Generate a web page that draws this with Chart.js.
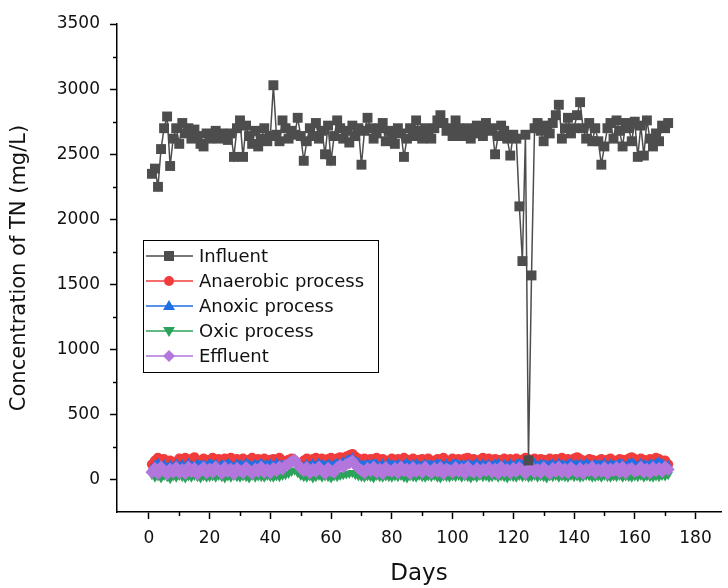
<!DOCTYPE html>
<html>
<head>
<meta charset="utf-8">
<script src="https://cdn.jsdelivr.net/npm/chart.js@4.4.1/dist/chart.umd.min.js"></script>
<style>
  html, body { margin: 0; padding: 0; background: #fff; }
  #wrap { width: 728px; height: 588px; }
</style>
</head>
<body>
<div id="wrap"><canvas id="c" width="728" height="588"></canvas></div>
<script>
// ---- Data ----
const days = [
  1,2,3,4,5,6,7,8,9,10, 11,12,13,14,15,16,17,18,19,20,
  21,22,23,24,25,26,27,28,29,30, 31,32,33,34,35,36,37,38,39,40,
  41,42,43,44,45,46,47,48,49,50, 51,52,53,54,55,56,57,58,59,60,
  61,62,63,64,65,66,67,68,69,70, 71,72,73,74,75,76,77,78,79,80,
  81,82,83,84,85,86,87,88,89,90, 91,92,93,94,95,96,97,98,99,100,
  101,102,103,104,105,106,107,108,109,110, 111,112,113,114,115,116,117,118,119,120,
  121,122,123,124,125,126,127,128,129,130, 131,132,133,134,135,136,137,138,139,140,
  141,142,143,144,145,146,147,148,149,150, 151,152,153,154,155,156,157,158,159,160,
  161,162,163,164,165,166,167,168,169,170,171
];

const influent = [
  2350,2390,2250,2540,2700,2790,2410,2620,2700,2580,
  2740,2660,2700,2620,2690,2640,2580,2560,2660,2620,
  2650,2680,2620,2660,2640,2610,2660,2480,2700,2760,
  2480,2720,2640,2580,2680,2560,2620,2700,2600,2640,
  3030,2650,2600,2760,2700,2620,2680,2650,2780,2640,
  2450,2600,2700,2640,2740,2620,2680,2500,2720,2450,
  2640,2760,2700,2620,2680,2590,2720,2640,2700,2420,
  2680,2780,2700,2620,2660,2700,2740,2600,2680,2640,
  2580,2700,2660,2480,2620,2700,2640,2760,2680,2620,
  2700,2640,2620,2700,2760,2800,2740,2680,2700,2640,
  2760,2700,2640,2680,2700,2620,2660,2720,2700,2640,
  2740,2680,2700,2500,2640,2720,2680,2620,2490,2650,
  2620,2100,1680,2650,150,1570,2700,2740,2680,2600,
  2720,2660,2740,2800,2880,2620,2700,2780,2660,2700,
  2800,2900,2700,2620,2740,2600,2700,2600,2420,2560,
  2700,2740,2620,2760,2680,2560,2740,2700,2600,2750,
  2480,2720,2490,2760,2620,2560,2660,2600,2720,2700,2740
];

const anaerobic = [
  120,150,170,140,160,130,150,120,140,165,
  150,170,140,160,175,150,130,165,155,140,
  170,150,160,135,165,150,170,140,160,150,
  165,140,155,170,145,160,150,165,135,155,
  160,145,170,150,140,155,165,150,130,120,
  150,165,140,160,170,150,165,145,160,170,
  155,165,175,160,180,190,200,180,165,150,
  165,140,160,155,170,145,160,150,135,165,
  150,160,140,170,155,150,165,140,155,160,
  145,165,150,140,160,155,170,145,150,165,
  150,160,140,165,170,150,160,145,155,170,
  150,165,140,160,155,150,165,145,160,150,
  165,150,155,170,160,150,165,140,160,155,
  150,165,145,160,150,170,155,160,145,165,
  175,160,150,145,160,155,140,150,160,145,
  155,165,150,140,160,155,150,165,175,160,
  150,165,155,145,160,150,170,160,145,150,120
];

const anoxic = [
  90,110,130,100,120,95,115,100,125,110,
  120,105,130,115,100,125,110,120,105,130,
  115,125,100,120,110,130,115,105,125,120,
  110,130,120,105,125,115,130,110,120,125,
  115,130,120,110,125,135,140,150,130,115,
  105,120,110,125,115,130,120,110,125,115,
  120,130,125,140,150,160,170,150,130,120,
  110,125,115,130,120,110,125,115,130,120,
  110,125,115,120,130,110,120,125,115,110,
  125,115,120,110,130,120,115,125,110,120,
  130,115,120,110,125,115,120,130,110,125,
  115,120,110,125,130,115,120,110,125,115,
  120,130,115,125,110,120,130,115,120,125,
  110,120,125,115,130,120,110,125,130,115,
  120,125,115,130,120,110,125,115,120,130,
  115,125,120,110,130,120,115,125,135,120,
  115,130,120,110,125,120,130,140,125,115,110
];

const oxic = [
  40,20,30,15,35,25,10,30,20,35,
  25,15,30,20,35,25,15,30,20,25,
  30,20,35,25,15,30,20,35,25,20,
  30,25,15,35,20,30,25,20,35,25,
  20,30,25,35,40,50,65,75,55,35,
  25,20,30,15,25,35,20,30,25,15,
  30,25,35,40,45,50,55,40,30,25,
  20,30,25,15,35,25,20,30,25,20,
  30,25,35,20,15,30,25,20,35,25,
  20,30,25,35,20,15,30,25,20,30,
  25,35,20,30,25,15,30,20,35,25,
  30,20,25,35,20,30,25,15,30,25,
  20,35,25,30,20,25,35,20,30,25,
  15,30,25,35,20,30,25,20,35,25,
  30,20,25,35,30,20,25,30,20,35,
  25,20,30,25,35,20,30,25,20,30,
  25,35,20,30,25,20,30,25,35,30,40
];

const effluent = [
  60,90,50,100,70,45,85,60,95,55,
  80,50,100,65,90,45,75,95,55,85,
  60,100,70,50,95,65,85,45,90,70,
  55,95,75,50,85,65,100,60,80,55,
  90,70,100,85,110,125,140,155,120,90,
  70,95,55,85,65,100,75,50,90,70,
  60,95,110,100,120,130,145,115,90,75,
  55,90,70,100,60,85,50,95,75,65,
  90,55,100,70,85,50,95,65,80,60,
  100,70,55,90,65,95,50,85,75,60,
  95,65,85,50,100,70,60,90,55,85,
  70,95,60,85,50,100,65,80,55,90,
  65,95,75,50,85,100,60,80,55,95,
  70,50,90,65,100,60,85,55,95,75,
  60,90,50,85,70,100,55,80,65,95,
  50,85,70,95,60,100,55,80,90,65,
  75,100,60,85,55,95,70,90,65,100,80
];

const seriesNames = ['Influent', 'Anaerobic process', 'Anoxic process', 'Oxic process', 'Effluent'];
const xTickValues = [0, 20, 40, 60, 80, 100, 120, 140, 160, 180];
const yTickValues = [0, 500, 1000, 1500, 2000, 2500, 3000, 3500];
const xMinorTicks = [10, 30, 50, 70, 90, 110, 130, 150, 170];
const yMinorTicks = [250, 750, 1250, 1750, 2250, 2750, 3250];

// ---- Styles ----
const colors = ['#4d4d4d', '#f23c3c', '#1f6fe5', '#2ca35a', '#b276dc'];
const pointStyles = ['rect', 'circle', 'triangle', 'triangle', 'rectRot'];
const rotations = [0, 0, 0, 180, 0];
const radii = [7, 5, 5.5, 5.5, 6.5];
const orders = [0, 4, 3, 2, 1];
const allValues = [influent, anaerobic, anoxic, oxic, effluent];

const datasets = allValues.map((vals, i) => ({
  label: seriesNames[i],
  data: days.map((d, k) => ({ x: d, y: vals[k] })),
  borderColor: colors[i],
  backgroundColor: colors[i],
  borderWidth: 1.5,
  pointStyle: pointStyles[i],
  pointRotation: rotations[i],
  pointRadius: radii[i],
  pointBorderWidth: 0,
  pointBackgroundColor: colors[i],
  order: orders[i],
  tension: 0
}));

const FONT = '"DejaVu Sans", "Liberation Sans", Arial, sans-serif';

const extras = {
  id: 'extras',
  afterDraw(chart) {
    const ctx = chart.ctx;
    const xs = chart.scales.x, ys = chart.scales.y;
    const ca = chart.chartArea;
    ctx.save();
    ctx.strokeStyle = '#000';
    ctx.lineWidth = 1.5;
    // minor ticks
    xMinorTicks.forEach(v => {
      const px = Math.round(xs.getPixelForValue(v)) + 0.5;
      ctx.beginPath(); ctx.moveTo(px, ca.bottom); ctx.lineTo(px, ca.bottom + 4); ctx.stroke();
    });
    yMinorTicks.forEach(v => {
      const py = Math.round(ys.getPixelForValue(v)) + 0.5;
      ctx.beginPath(); ctx.moveTo(ca.left, py); ctx.lineTo(ca.left - 4, py); ctx.stroke();
    });
    // legend
    const bx = 143.5, by = 240.5, bw = 235, bh = 132;
    ctx.fillStyle = '#fff';
    ctx.fillRect(bx, by, bw, bh);
    ctx.lineWidth = 1;
    ctx.strokeStyle = '#000';
    ctx.strokeRect(bx, by, bw, bh);
    const rowY = [256, 281, 306, 331, 356];
    ctx.font = '18px ' + FONT;
    ctx.textBaseline = 'middle';
    ctx.textAlign = 'left';
    seriesNames.forEach((name, i) => {
      const y = rowY[i];
      ctx.strokeStyle = colors[i];
      ctx.lineWidth = 1.5;
      ctx.beginPath(); ctx.moveTo(146, y); ctx.lineTo(193, y); ctx.stroke();
      ctx.fillStyle = colors[i];
      const cx = 169;
      ctx.beginPath();
      if (i === 0) {
        ctx.rect(cx - 5, y - 5, 10, 10);
      } else if (i === 1) {
        ctx.arc(cx, y, 5, 0, Math.PI * 2);
      } else if (i === 2) {
        ctx.moveTo(cx, y - 6); ctx.lineTo(cx + 6, y + 4); ctx.lineTo(cx - 6, y + 4); ctx.closePath();
      } else if (i === 3) {
        ctx.moveTo(cx, y + 6); ctx.lineTo(cx + 6, y - 4); ctx.lineTo(cx - 6, y - 4); ctx.closePath();
      } else {
        ctx.moveTo(cx, y - 6); ctx.lineTo(cx + 6, y); ctx.lineTo(cx, y + 6); ctx.lineTo(cx - 6, y); ctx.closePath();
      }
      ctx.fill();
      ctx.fillStyle = '#111';
      ctx.fillText(name, 199, y + 1);
    });
    ctx.restore();
  }
};

new Chart(document.getElementById('c'), {
  type: 'line',
  data: { datasets },
  options: {
    responsive: false,
    animation: false,
    layout: { padding: { top: 24, right: 0, left: 0, bottom: 0 } },
    plugins: { legend: { display: false }, tooltip: { enabled: false } },
    scales: {
      x: {
        type: 'linear',
        min: -10.5,
        max: 188.4,
        afterBuildTicks: (s) => { s.ticks = xTickValues.map(v => ({ value: v })); },
        afterFit: (s) => { s.height = 76; },
        grid: { drawOnChartArea: false, drawTicks: true, tickLength: 7, tickColor: '#000', tickWidth: 1.5 },
        border: { display: true, color: '#000', width: 1.5 },
        ticks: { color: '#111', font: { family: FONT, size: 17 }, padding: 9, maxRotation: 0, autoSkip: false, callback: (v) => String(v) },
        title: { display: true, text: 'Days', color: '#111', font: { family: FONT, size: 23 }, padding: { top: 0, bottom: 0 } }
      },
      y: {
        type: 'linear',
        min: -246,
        max: 3500,
        afterBuildTicks: (s) => { s.ticks = yTickValues.map(v => ({ value: v })); },
        afterFit: (s) => { s.width = 117; },
        grid: { drawOnChartArea: false, drawTicks: true, tickLength: 7, tickColor: '#000', tickWidth: 1.5 },
        border: { display: true, color: '#000', width: 1.5 },
        ticks: { color: '#111', font: { family: FONT, size: 17 }, padding: 10, autoSkip: false, callback: (v) => String(v) },
        title: { display: true, text: 'Concentration of TN (mg/L)', color: '#111', font: { family: FONT, size: 21 }, padding: { top: 7, bottom: 0 } }
      }
    }
  },
  plugins: [extras]
});
</script>
</body>
</html>
